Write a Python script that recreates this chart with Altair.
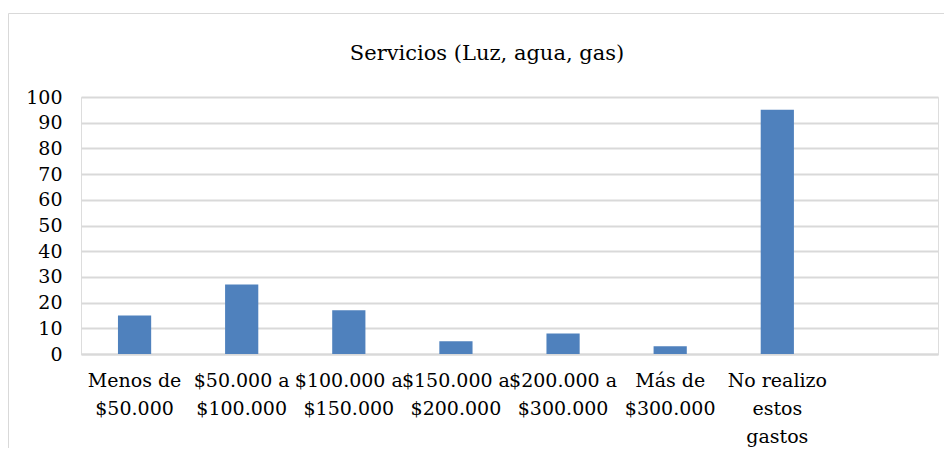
import altair as alt
import pandas as pd

categories = [
    "Menos de|$50.000",
    "$50.000 a|$100.000",
    "$100.000 a|$150.000",
    "$150.000 a|$200.000",
    "$200.000 a|$300.000",
    "Más de|$300.000",
    "No realizo|estos|gastos",
    " ",
]
values = [15, 27, 17, 5, 8, 3, 95]
y_ticks = [0, 10, 20, 30, 40, 50, 60, 70, 80, 90, 100]
title = ["Servicios (Luz, agua, gas)"]

df = pd.DataFrame({"cat": categories[: len(values)], "val": values})

FONT = "DejaVu Serif"
W, H = 857, 257

border = alt.Chart(pd.DataFrame({"a": [0]})).mark_rect(
    fill=None, stroke="#d9d9d9", strokeWidth=1
).encode(
    x=alt.value(-72.5), x2=alt.value(W + 40),
    y=alt.value(-83.5), y2=alt.value(H + 200),
)

title_layer = alt.Chart(pd.DataFrame({"t": title})).mark_text(
    font=FONT, fontSize=21, color="black", align="center", baseline="middle"
).encode(
    text="t:N",
    x=alt.value(406),
    y=alt.value(-43),
)

bars = alt.Chart(df).mark_bar(color="#4f81bd").encode(
    x=alt.X(
        "cat:N",
        sort=categories,
        scale=alt.Scale(domain=categories, paddingInner=0.69, paddingOuter=0.345),
        axis=alt.Axis(
            title=None,
            labelAngle=0,
            labelExpr="split(datum.label, '|')",
            labelFont=FONT,
            labelFontSize=19,
            labelColor="black",
            labelLineHeight=28,
            labelPadding=17,
            labelOverlap=False,
            labelBaseline="top",
            ticks=False,
            domainColor="#d9d9d9",
            domainWidth=2,
            grid=False,
        ),
    ),
    y=alt.Y(
        "val:Q",
        scale=alt.Scale(domain=[0, 100], nice=False),
        axis=alt.Axis(
            title=None,
            values=y_ticks,
            labelFont=FONT,
            labelFontSize=19,
            labelColor="black",
            labelPadding=19,
            ticks=False,
            domain=False,
            gridColor="#d9d9d9",
            gridWidth=2,
        ),
    ),
)

chart = alt.layer(border, title_layer, bars).properties(
    width=W,
    height=H,
    autosize=alt.AutoSizeParams(type="none"),
    padding={"left": 73, "top": 89, "right": 6, "bottom": 94},
).configure_view(stroke=None).configure(background="white")

chart.save("out.html", embed_options={"renderer": "svg", "actions": False})
